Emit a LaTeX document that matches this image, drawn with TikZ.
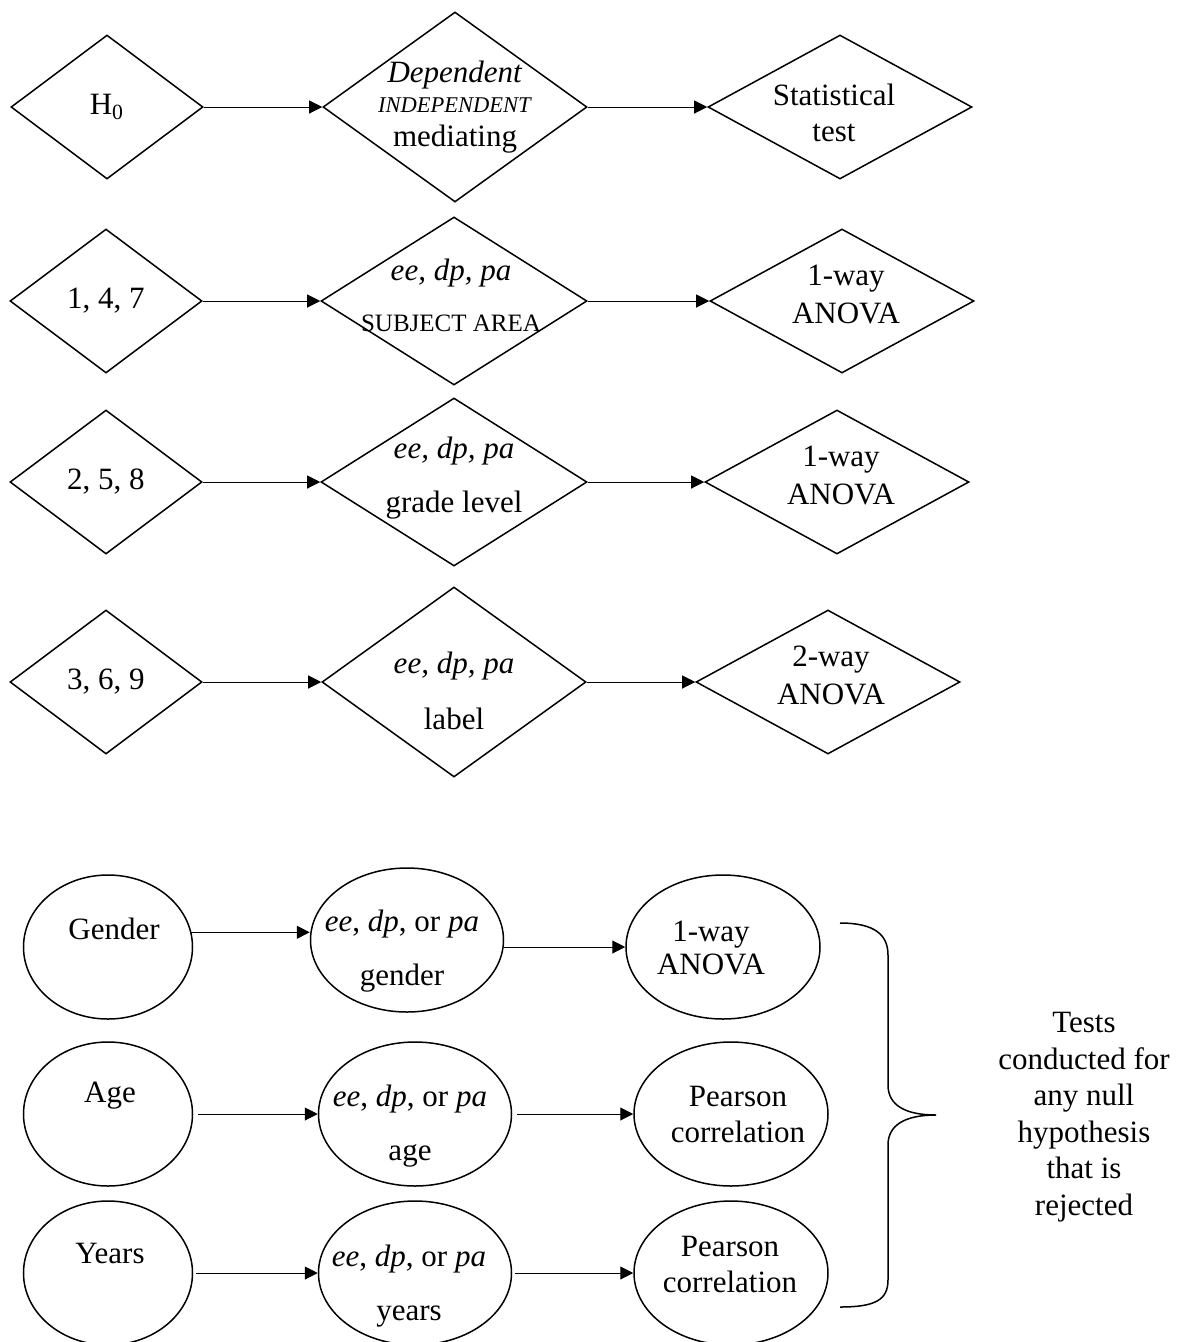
\documentclass[tikz,border=0pt]{standalone}
\usepackage{fontspec}
\setmainfont{Liberation Serif}
\usetikzlibrary{shapes.geometric}
\usetikzlibrary{arrows.meta}

\tikzset{
  dia/.style={draw,diamond,inner sep=0pt,line width=0.6pt},
  hyp/.style={dia,minimum width=76.8pt,minimum height=57.6pt},
  vartall/.style={dia,minimum width=105.6pt,minimum height=76pt},
  varshort/.style={dia,minimum width=106.4pt,minimum height=67.2pt},
  testdia/.style={dia,minimum width=105.6pt,minimum height=57.6pt},
  oval/.style={draw,ellipse,inner sep=0pt,line width=0.6pt,minimum height=57.6pt},
  txt/.style={align=center,inner sep=0pt,font=\fontsize{12.4}{14.4}\selectfont},
  arr/.style={-{Triangle[length=5.2pt,width=5.2pt]},line width=0.4pt}
}

\begin{document}
\begin{tikzpicture}[x=0.4pt,y=-0.4pt]
\useasboundingbox (0,0) rectangle (1186,1342);
% hypotheses, diamonds
\node[hyp] (h0) at (107,107) {};
\node[vartall] (var1) at (455,107) {};
\node[testdia] (test1) at (840,107) {};
\node[hyp] (n147) at (106,301) {};
\node[varshort] (var2) at (454,301) {};
\node[testdia] (test2) at (842,301) {};
\node[hyp] (n258) at (106,482) {};
\node[varshort] (var3) at (454,482) {};
\node[testdia] (test3) at (837,482) {};
\node[hyp] (n369) at (106,682) {};
\node[vartall] (var4) at (454,682) {};
\node[testdia] (test4) at (828,682) {};
\node[txt] (th0) at (h0.center) {H\textsubscript{0}};
\node[txt] (tvar1) at ([shift={(0,0)}]var1.center) {\textit{Dependent}\\[-2.4pt]{\fontsize{9}{10}\selectfont\textit{INDEPENDENT}}\\[-0.8pt]mediating};
\node[txt] (ttest1) at ([shift={(-6,6)}]test1.center) {Statistical\\test};
\node[txt] (tn147) at (n147.center) {1, 4, 7};
\node[txt] (tvar2) at ([shift={(-3,-6)}]var2.center) {\textit{ee, dp, pa}\\[6pt]{\fontsize{10}{12}\selectfont SUBJECT AREA}};
\node[txt] (ttest2) at ([shift={(4,-7)}]test2.center) {1-way\\[0.8pt]ANOVA};
\node[txt] (tn258) at (n258.center) {2, 5, 8};
\node[txt] (tvar3) at ([shift={(0,-4)}]var3.center) {\textit{ee, dp, pa}\\[7.2pt]grade level};
\node[txt] (ttest3) at ([shift={(4,-7)}]test3.center) {1-way\\[0.8pt]ANOVA};
\node[txt] (tn369) at (n369.center) {3, 6, 9};
\node[txt] (tvar4) at ([shift={(0,9)}]var4.center) {\textit{ee, dp, pa}\\[8pt]label};
\node[txt] (ttest4) at ([shift={(3,-7)}]test4.center) {2-way\\[0.8pt]ANOVA};
\draw[arr] (h0) -- (var1);
\draw[arr] (var1) -- (test1);
\draw[arr] (n147) -- (var2);
\draw[arr] (var2) -- (test2);
\draw[arr] (n258) -- (var3);
\draw[arr] (var3) -- (test3);
\draw[arr] (n369) -- (var4);
\draw[arr] (var4) -- (test4);
% demographic variables, ovals
\node[oval,minimum width=67.6pt] (gender) at (108,947) {};
\node[oval,minimum width=77.2pt] (ee1) at (407,940) {};
\node[oval,minimum width=77.6pt] (anova) at (723,947) {};
\node[oval,minimum width=67.6pt] (age) at (108,1114) {};
\node[oval,minimum width=77.2pt] (ee2) at (415,1114) {};
\node[oval,minimum width=77.6pt] (pearson1) at (731,1114) {};
\node[oval,minimum width=67.6pt] (years) at (108,1273) {};
\node[oval,minimum width=77.2pt] (ee3) at (415,1273) {};
\node[oval,minimum width=77.6pt] (pearson2) at (731,1273) {};
\node[txt] (tgender) at ([shift={(6,-18)}]gender.center) {Gender};
\node[txt] (tee1) at ([shift={(-5,11)}]ee1.center) {\textit{ee}, \textit{dp}, or \textit{pa}\\[7.2pt]gender};
\node[txt] (tanova) at ([shift={(-12,1)}]anova.center) {1-way\\[-1.2pt]ANOVA};
\node[txt] (tage) at ([shift={(2,-18)}]age.center) {Age};
\node[txt] (tee2) at ([shift={(-5,12)}]ee2.center) {\textit{ee}, \textit{dp}, or \textit{pa}\\[7.2pt]age};
\node[txt] (tpearson1) at ([shift={(7,0)}]pearson1.center) {Pearson\\correlation};
\node[txt] (tyears) at ([shift={(2,-20)}]years.center) {Years};
\node[txt] (tee3) at ([shift={(-6,13)}]ee3.center) {\textit{ee}, \textit{dp}, or \textit{pa}\\[7.2pt]years};
\node[txt] (tpearson2) at ([shift={(-1,-9)}]pearson2.center) {Pearson\\correlation};
\draw[arr] (gender.10) -- (gender.10 -| ee1.west);
\draw[arr] (anova.west -| ee1.east) -- (anova.west);
\draw[arr,shorten <=2pt] (age) -- (ee2);
\draw[arr,shorten <=2pt] (ee2) -- (pearson1);
\draw[arr,shorten <=1pt] (years) -- (ee3);
\draw[arr,shorten <=1pt] (ee3) -- (pearson2);
% brace and note
\coordinate (tip) at (936,1115);
\draw[line width=0.6pt] (840,923) .. controls (875,923) and (888,935) .. (888,955) -- (888,1085)
  .. controls (888,1105) and (905,1115) .. (tip)
  .. controls (905,1115) and (888,1125) .. (888,1145) -- (888,1280)
  .. controls (888,1300) and (875,1307) .. (840,1307);
\node[txt,font=\fontsize{12.4}{14.6}\selectfont] (note) at (1084,1117) {Tests\\conducted for\\any null\\hypothesis\\that is\\rejected};
\end{tikzpicture}
\end{document}
